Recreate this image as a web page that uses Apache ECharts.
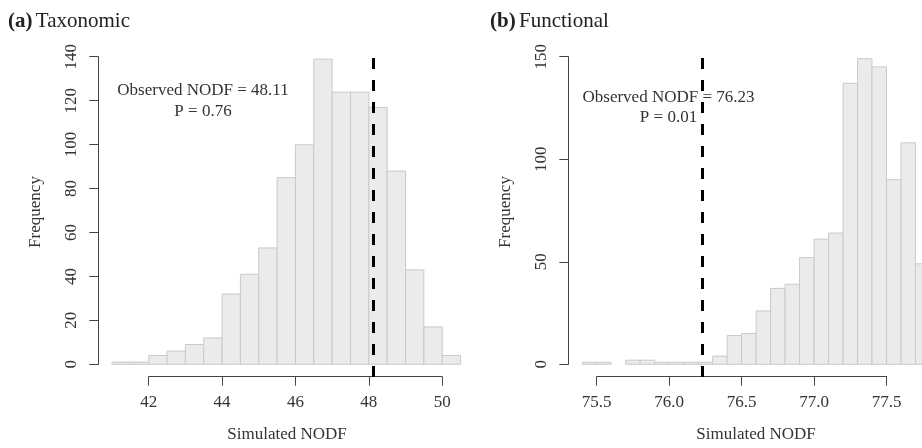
<!DOCTYPE html>
<html>
<head>
<meta charset="utf-8">
<script src="https://cdn.jsdelivr.net/npm/echarts@6/dist/echarts.min.js"></script>
<style>
  html, body { margin: 0; padding: 0; background: #fff; }
  #chart { width: 922px; height: 448px; }
</style>
</head>
<body>
<div id="chart"></div>
<script>
// (a) taxonomic null model: bins of 0.5 starting at 41
const taxoBinStart = 41
const taxoBinWidth = 0.5
const taxoCounts = [1, 1, 4, 6, 9, 12, 32, 41, 53, 85, 100, 139, 124, 124, 117, 88, 43, 17, 4]
const taxoObserved = 48.11
const taxoXTicks = [42, 50, 2]
const taxoYTicks = [0, 140, 20]

// (b) functional null model: bins of 0.1 starting at 75.4
const funcBinStart = 75.4
const funcBinWidth = 0.1
const funcCounts = [1, 1, 0, 2, 2, 1, 1, 1, 1, 4, 14, 15, 26, 37, 39, 52, 61, 64, 137, 149, 145, 90, 108, 49]
const funcObserved = 76.23
const funcXTicks = [75.5, 77.5, 0.5]
const funcYTicks = [0, 150, 50]

const FONT = 'Liberation Serif'
const TXT = '#333'
const AXIS = '#444'

// 把计数变成 [下界, 上界, 频数]
const toBins = (start, width, counts) =>
  counts.map((c, i) => [+(start + i * width).toFixed(4), +(start + (i + 1) * width).toFixed(4), c])

const histItem = (params, api) => {
  const lo = api.value(0)
  const hi = api.value(1)
  const n = api.value(2)
  if (!n) return null
  const p0 = api.coord([lo, n])
  const p1 = api.coord([hi, 0])
  return {
    type: 'rect',
    shape: { x: p0[0], y: p0[1], width: p1[0] - p0[0], height: p1[1] - p0[1] },
    style: { fill: '#ebebeb', stroke: '#c9c9c9', lineWidth: 1 },
  }
}

const axisLabelStyle = { color: TXT, fontFamily: FONT, fontSize: 17 }

const chart = echarts.init(document.getElementById('chart'), null, { renderer: 'canvas' })

const option = {
  animation: false,
  backgroundColor: '#fff',
  grid: [
    // a: data / x-axis / y-axis
    { left: 112, top: 55, width: 348.5, height: 322 },
    { left: 148.7, top: 300, width: 293.5, height: 76.7 },
    { left: 98.3, top: 56.7, width: 10, height: 307.6 },
    // b: data / x-axis / y-axis
    { left: 582.2, top: 55, width: 340, height: 322 },
    { left: 596.7, top: 300, width: 290, height: 76.7 },
    { left: 568.3, top: 56.7, width: 10, height: 307.6 },
  ],
  xAxis: [
    { gridIndex: 0, type: 'value', min: 41, max: 41 + 348.5 / 36.69, show: false },
    {
      gridIndex: 1, type: 'value', min: taxoXTicks[0], max: taxoXTicks[1], interval: taxoXTicks[2],
      axisLine: { lineStyle: { color: AXIS, width: 1 } },
      axisTick: { length: 9, lineStyle: { color: AXIS } },
      axisLabel: { ...axisLabelStyle, margin: 17 },
      splitLine: { show: false },
    },
    { gridIndex: 2, type: 'value', show: false },
    { gridIndex: 3, type: 'value', min: 75.4, max: 75.4 + 340 / 145, show: false },
    {
      gridIndex: 4, type: 'value', min: funcXTicks[0], max: funcXTicks[1], interval: funcXTicks[2],
      axisLine: { lineStyle: { color: AXIS, width: 1 } },
      axisTick: { length: 9, lineStyle: { color: AXIS } },
      axisLabel: { ...axisLabelStyle, margin: 17, formatter: (v) => v.toFixed(1) },
      splitLine: { show: false },
    },
    { gridIndex: 5, type: 'value', show: false },
  ],
  yAxis: [
    { gridIndex: 0, type: 'value', min: -5.8, max: 140.9, show: false },
    { gridIndex: 1, type: 'value', show: false },
    {
      gridIndex: 2, type: 'value', position: 'left', min: taxoYTicks[0], max: taxoYTicks[1], interval: taxoYTicks[2],
      axisLine: { show: true, lineStyle: { color: AXIS, width: 1 } },
      axisTick: { show: true, length: 9, lineStyle: { color: AXIS } },
      axisLabel: { ...axisLabelStyle, rotate: 90, margin: 18 },
      splitLine: { show: false },
    },
    { gridIndex: 3, type: 'value', min: -6.2, max: 150.8, show: false },
    { gridIndex: 4, type: 'value', show: false },
    {
      gridIndex: 5, type: 'value', position: 'left', min: funcYTicks[0], max: funcYTicks[1], interval: funcYTicks[2],
      axisLine: { show: true, lineStyle: { color: AXIS, width: 1 } },
      axisTick: { show: true, length: 9, lineStyle: { color: AXIS } },
      axisLabel: { ...axisLabelStyle, rotate: 90, margin: 18 },
      splitLine: { show: false },
    },
  ],
  series: [
    {
      type: 'custom',
      xAxisIndex: 0,
      yAxisIndex: 0,
      renderItem: histItem,
      encode: { x: [0, 1], y: 2 },
      data: toBins(taxoBinStart, taxoBinWidth, taxoCounts),
      silent: true,
    },
    {
      type: 'line',
      xAxisIndex: 0,
      yAxisIndex: 0,
      data: [],
      markLine: {
        silent: true,
        symbol: 'none',
        label: { show: false },
        lineStyle: { color: '#000', width: 3, type: [11, 11] },
        data: [{ xAxis: taxoObserved }],
      },
    },
    {
      type: 'custom',
      xAxisIndex: 3,
      yAxisIndex: 3,
      renderItem: histItem,
      encode: { x: [0, 1], y: 2 },
      data: toBins(funcBinStart, funcBinWidth, funcCounts),
      silent: true,
    },
    {
      type: 'line',
      xAxisIndex: 3,
      yAxisIndex: 3,
      data: [],
      markLine: {
        silent: true,
        symbol: 'none',
        label: { show: false },
        lineStyle: { color: '#000', width: 3, type: [11, 11] },
        data: [{ xAxis: funcObserved }],
      },
    },
  ],
  graphic: [
    {
      type: 'text', left: 8, top: 11,
      style: { rich: { b: { fontWeight: 'bold', fontSize: 21, fontFamily: FONT, fill: '#222' }, n: { fontSize: 21, fontFamily: FONT, fill: '#222' } }, text: '{b|(a)} {n|Taxonomic}' },
    },
    {
      type: 'text', left: 490, top: 11,
      style: { rich: { b: { fontWeight: 'bold', fontSize: 21, fontFamily: FONT, fill: '#222' }, n: { fontSize: 21, fontFamily: FONT, fill: '#222' } }, text: '{b|(b)} {n|Functional}' },
    },
    // axis titles
    { type: 'text', x: 36, y: 212, rotation: Math.PI / 2, style: { text: 'Frequency', fontFamily: FONT, fontSize: 17, fill: TXT, align: 'center', verticalAlign: 'middle' } },
    { type: 'text', x: 506, y: 212, rotation: Math.PI / 2, style: { text: 'Frequency', fontFamily: FONT, fontSize: 17, fill: TXT, align: 'center', verticalAlign: 'middle' } },
    { type: 'text', x: 287, y: 435, style: { text: 'Simulated NODF', fontFamily: FONT, fontSize: 17, fill: TXT, align: 'center', verticalAlign: 'middle' } },
    { type: 'text', x: 756, y: 435, style: { text: 'Simulated NODF', fontFamily: FONT, fontSize: 17, fill: TXT, align: 'center', verticalAlign: 'middle' } },
    // annotations
    { type: 'text', x: 203, y: 91, style: { text: 'Observed NODF = ' + taxoObserved.toFixed(2), fontFamily: FONT, fontSize: 17, fill: TXT, align: 'center', verticalAlign: 'middle' } },
    { type: 'text', x: 203, y: 112, style: { text: 'P = 0.76', fontFamily: FONT, fontSize: 17, fill: TXT, align: 'center', verticalAlign: 'middle' } },
    { type: 'text', x: 668.5, y: 98, z: 10, style: { text: 'Observed NODF = ' + funcObserved.toFixed(2), fontFamily: FONT, fontSize: 17, fill: TXT, align: 'center', verticalAlign: 'middle' } },
    { type: 'text', x: 668.5, y: 118, z: 10, style: { text: 'P = 0.01', fontFamily: FONT, fontSize: 17, fill: TXT, align: 'center', verticalAlign: 'middle' } },
  ],
}

chart.setOption(option)
window.addEventListener('resize', () => {
  chart.resize()
})
</script>
</body>
</html>
